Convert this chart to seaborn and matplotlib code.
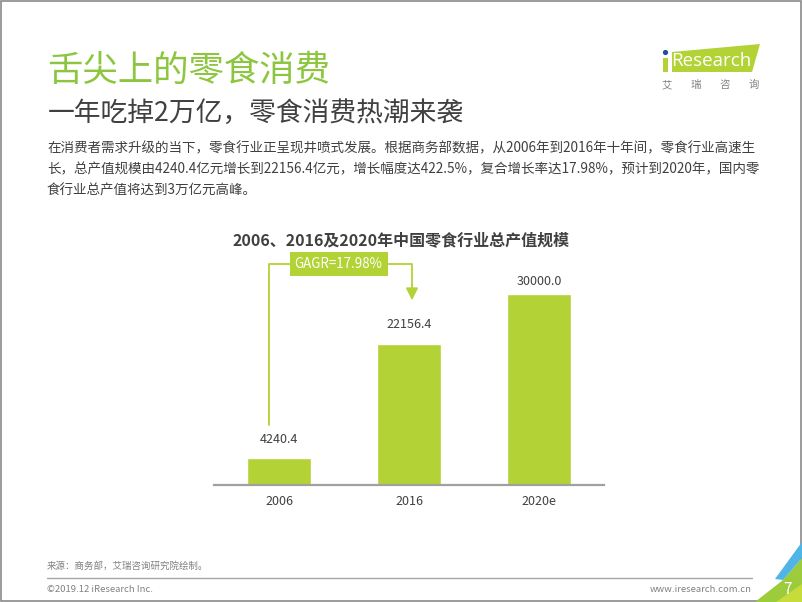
import matplotlib
matplotlib.use("Agg")
import matplotlib.pyplot as plt
import seaborn as sns
import pandas as pd
from matplotlib.patches import Polygon, Rectangle, Circle

# ---- data ----
categories = ["2006", "2016", "2020e"]
values = [4240.4, 22156.4, 30000.0]
value_labels = ["4240.4", "22156.4", "30000.0"]
cagr_label = "GAGR=17.98%"

chart_title = "2006、2016及2020年中国零食行业总产值规模"
slide_title = "舌尖上的零食消费"
slide_subtitle = "一年吃掉2万亿，零食消费热潮来袭"
body_lines = [
    "在消费者需求升级的当下，零食行业正呈现井喷式发展。根据商务部数据，从2006年到2016年十年间，零食行业高速生",
    "长，总产值规模由4240.4亿元增长到22156.4亿元，增长幅度达422.5%，复合增长率达17.98%，预计到2020年，国内零",
    "食行业总产值将达到3万亿元高峰。",
]
source_text = "来源：商务部，艾瑞咨询研究院绘制。"
footer_left = "©2019.12 iResearch Inc."
footer_right = "www.iresearch.com.cn"
page_no = "7"

sns.set_theme(style="white")
plt.rcParams["font.family"] = ["Noto Sans CJK SC", "DejaVu Sans"]

W, H = 802, 602
fig = plt.figure(figsize=(W / 100, H / 100), dpi=100)
fig.patch.set_facecolor("white")

BAR = "#b2d235"
GREEN_T = "#8cc63f"
DARK = "#404040"
GRAY = "#808080"

def fx(x):
    return x / W

def fy(y):
    return 1 - y / H

# decoration axes in pixel coordinates
deco = fig.add_axes([0, 0, 1, 1], zorder=0)
deco.set_xlim(0, W)
deco.set_ylim(H, 0)
deco.axis("off")

# border
deco.add_patch(Rectangle((0.5, 0.5), W - 1.5, H - 1.5, fill=False, ec="#8a8a8a", lw=1.2))

# logo
deco.add_patch(Polygon([(672, 52), (760, 44), (752, 72), (672, 72)], closed=True, fc=BAR, ec="none"))
deco.add_patch(Rectangle((663, 58), 5, 14, fc=BAR, ec="none"))
deco.add_patch(Circle((665.5, 52.5), 2.6, fc="#1f4e9c", ec="none"))
deco.text(671, 61, "Research", color="white", fontsize=13.5, va="center", ha="left",
          family=["Open Sans", "DejaVu Sans"])
for i, ch in enumerate("艾瑞咨询"):
    deco.text(667 + i * 29, 85, ch, color=GRAY, fontsize=7.5, va="center", ha="center")

# bottom-right corner decoration
deco.add_patch(Polygon([(755, 602), (802, 602), (802, 558), (783, 580)], closed=True, fc="#9ccc3c", ec="none"))
deco.add_patch(Polygon([(776, 602), (802, 602), (802, 584)], closed=True, fc="#c6dc3a", ec="none"))
deco.add_patch(Polygon([(802, 542), (802, 558), (783, 580), (775, 579)], closed=True, fc="#4fb4e6", ec="none"))
deco.text(788, 589, page_no, color="white", fontsize=11, ha="center", va="center")

# footer
deco.plot([47, 752], [578, 578], color="#a6a6a6", lw=1)
deco.text(47, 566, source_text, color=GRAY, fontsize=6.8, va="center", ha="left")
deco.text(47, 589, footer_left, color=GRAY, fontsize=6.8, va="center", ha="left")
deco.text(752, 589, footer_right, color=GRAY, fontsize=6.8, va="center", ha="right")

# headings
deco.text(47, 71, slide_title, color=GREEN_T, fontsize=25.5, fontweight="light", va="center", ha="left")
deco.text(48, 113, slide_subtitle, color=DARK, fontsize=19.3, fontweight="light", va="center", ha="left")
for i, line in enumerate(body_lines):
    deco.text(47, 148 + i * 21.5, line, color=DARK, fontsize=9.75, va="center", ha="left")

# chart title
deco.text(401, 240, chart_title, color=DARK, fontsize=11.5, fontweight="bold", va="center", ha="center")

# ---- chart ----
base_px, top_px = 485, 250
left_px, right_px = 214, 604
ymax = values[2] * (base_px - top_px) / 191.0
ax = fig.add_axes([fx(left_px), fy(base_px), (right_px - left_px) / W, (base_px - top_px) / H], zorder=2)
ax.patch.set_alpha(0)

df = pd.DataFrame({"year": categories, "value": values})
sns.barplot(data=df, x="year", y="value", hue="year", palette=[BAR] * 3, width=0.49,
            legend=False, ax=ax, saturation=1)
ax.set_xlim(-0.5, 2.5)
ax.set_ylim(0, ymax)
ax.set_xlabel("")
ax.set_ylabel("")
ax.set_yticks([])
for s in ["top", "right", "left"]:
    ax.spines[s].set_visible(False)
ax.spines["bottom"].set_color("#a0a0a0")
ax.spines["bottom"].set_linewidth(1.6)
ax.tick_params(axis="x", length=0, pad=7, labelsize=9, labelcolor=DARK)

offsets = [9, 9, 4]
for i, (v, lab) in enumerate(zip(values, value_labels)):
    ax.annotate(lab, (i, v), xytext=(0, offsets[i]), textcoords="offset points",
                ha="center", va="bottom", fontsize=9, color=DARK)

# CAGR bracket
x0, x1 = -0.077, 1.023
y_low = values[0] * 2.22
y_top = ymax * 0.94
y_tip = values[1] * 1.29
ax.plot([x0, x0, x1, x1], [y_low, y_top, y_top, y_tip + 900], color=BAR, lw=1.3, clip_on=False, zorder=3)
ax.annotate("", xy=(x1, y_tip), xytext=(x1, y_tip + 1500),
            arrowprops=dict(arrowstyle="-|>,head_length=0.6,head_width=0.3", color=BAR, lw=1.3),
            zorder=3)
ax.text(0.458, y_top, cagr_label, ha="center", va="center", fontsize=9.6, color="white", zorder=4,
        bbox=dict(boxstyle="square,pad=0.38", fc=BAR, ec="none"), clip_on=False)

fig.savefig("out.png", dpi=100, facecolor="white")
